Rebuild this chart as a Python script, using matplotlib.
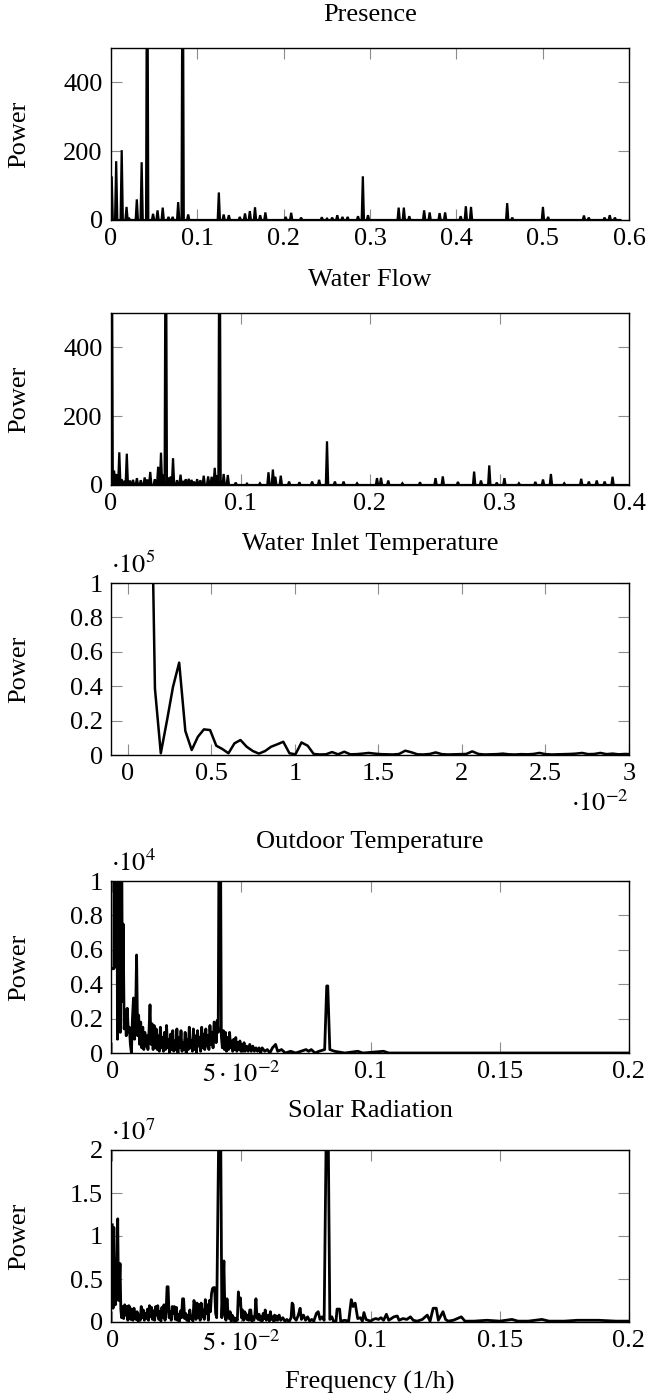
import matplotlib
matplotlib.use("Agg")
import matplotlib.pyplot as plt
from matplotlib.ticker import FixedLocator, FixedFormatter

plt.rcParams["font.family"] = ["Liberation Serif", "DejaVu Serif"]
plt.rcParams["mathtext.fontset"] = "stix"
FS = 19
plt.rcParams["font.size"] = FS

# ─── Presence (pico: frequência em 1/h, potência) ─────────────────────────────
presence_freq = [0.0008, 0.0060, 0.0124, 0.0180, 0.0211, 0.0299, 0.0355, 0.0419,
                 0.0487, 0.0539, 0.0599, 0.0666, 0.0714, 0.0778, 0.0830, 0.0894,
                 0.1249, 0.1305, 0.1365, 0.1492, 0.1552, 0.1608, 0.1668, 0.1728,
                 0.1788, 0.2023, 0.2087, 0.2202, 0.2442, 0.2502, 0.2562, 0.2621,
                 0.2681, 0.2741, 0.2861, 0.2917, 0.2977, 0.3332, 0.3392, 0.3455,
                 0.3627, 0.3691, 0.3806, 0.3870, 0.4050, 0.4110, 0.4170, 0.4589,
                 0.4648, 0.5003, 0.5063, 0.5478, 0.5534, 0.5717, 0.5777, 0.5837]
presence_power = [127, 171, 203, 38, 4, 60, 168, 1000,
                  18, 28, 36, 9, 9, 52, 1000, 16,
                  80, 16, 14, 9, 19, 26, 37, 14,
                  22, 9, 21, 7, 8, 4, 7, 14,
                  9, 9, 11, 127, 14, 36, 36, 11,
                  28, 22, 20, 22, 11, 40, 38, 49,
                  7, 38, 9, 13, 7, 7, 14, 7]

# ─── Water Flow ───────────────────────────────────────────────────────────────
flow_freq = [0.0005, 0.0024, 0.0040, 0.0064, 0.0082, 0.0100, 0.0122, 0.0146,
             0.0170, 0.0200, 0.0230, 0.0260, 0.0280, 0.0303, 0.0338, 0.0364,
             0.0386, 0.0403, 0.0423, 0.0444, 0.0462, 0.0479, 0.0510, 0.0537,
             0.0560, 0.0577, 0.0600, 0.0622, 0.0640, 0.0665, 0.0690, 0.0716,
             0.0750, 0.0777, 0.0801, 0.0820, 0.0838, 0.0870, 0.0902, 0.0963,
             0.1050, 0.1150, 0.1216, 0.1250, 0.1269, 0.1311, 0.1375, 0.1455,
             0.1553, 0.1607, 0.1668, 0.1729, 0.1796, 0.1900, 0.2054, 0.2085,
             0.2141, 0.2250, 0.2386, 0.2506, 0.2562, 0.2679, 0.2804, 0.2857,
             0.2921, 0.2979, 0.3038, 0.3150, 0.3277, 0.3336, 0.3397, 0.3500,
             0.3631, 0.3690, 0.3751, 0.3812, 0.3873]
flow_power = [1000, 42, 32, 95, 17, 12, 91, 13,
              15, 20, 14, 22, 16, 38, 17, 53,
              94, 30, 1000, 22, 25, 78, 14, 30,
              12, 17, 18, 15, 10, 17, 14, 27,
              25, 24, 50, 28, 1000, 32, 29, 7,
              4, 5, 37, 45, 24, 27, 10, 8,
              10, 15, 127, 10, 10, 5, 20, 21,
              13, 5, 8, 20, 25, 9, 39, 13,
              57, 7, 20, 5, 9, 16, 32, 5,
              18, 10, 13, 10, 24]

# ─── Water Inlet Temperature (frequência ·10^-2, potência ·10^5) ──────────────
inlet_freq_e2 = [0.018, 0.054, 0.090, 0.127, 0.163, 0.198, 0.235, 0.271, 0.308,
                 0.345, 0.383, 0.420, 0.456, 0.493, 0.530, 0.566, 0.603, 0.639,
                 0.675, 0.712, 0.749, 0.785, 0.822, 0.858, 0.895, 0.931, 0.968,
                 1.004, 1.040, 1.077, 1.113, 1.150, 1.186, 1.223, 1.259, 1.296,
                 1.332, 1.369, 1.405, 1.442, 1.478, 1.515, 1.551, 1.588, 1.624,
                 1.661, 1.697, 1.734, 1.770, 1.807, 1.843, 1.880, 1.916, 1.953,
                 1.989, 2.026, 2.062, 2.099, 2.135, 2.172, 2.208, 2.245, 2.281,
                 2.318, 2.354, 2.391, 2.427, 2.464, 2.500, 2.537, 2.573, 2.610,
                 2.646, 2.683, 2.719, 2.756, 2.792, 2.829, 2.865, 2.902, 2.938,
                 2.975, 3.011]
inlet_power_e5 = [20.0, 10.0, 6.0, 2.5, 0.386, 0.01, 0.20, 0.396, 0.537,
                  0.139, 0.029, 0.106, 0.149, 0.145, 0.054, 0.035, 0.010, 0.068,
                  0.087, 0.048, 0.023, 0.008, 0.023, 0.048, 0.062, 0.077, 0.010,
                  0.004, 0.073, 0.054, 0.006, 0.003, 0.004, 0.017, 0.004, 0.019,
                  0.004, 0.005, 0.008, 0.012, 0.008, 0.005, 0.004, 0.003, 0.006,
                  0.025, 0.016, 0.004, 0.003, 0.006, 0.015, 0.005, 0.003, 0.004,
                  0.005, 0.006, 0.021, 0.006, 0.003, 0.004, 0.005, 0.008, 0.004,
                  0.003, 0.005, 0.004, 0.006, 0.012, 0.005, 0.003, 0.004, 0.005,
                  0.006, 0.008, 0.012, 0.005, 0.006, 0.012, 0.005, 0.008, 0.004,
                  0.006, 0.005]

# ─── Outdoor Temperature (potência ·10^4) ─────────────────────────────────────
outdoor_freq = [0.0000, 0.0006, 0.0009, 0.0013, 0.0016, 0.0020, 0.0024, 0.0027,
                0.0031, 0.0035, 0.0039, 0.0042, 0.0046, 0.0050, 0.0054, 0.0058,
                0.0062, 0.0066, 0.0070, 0.0074, 0.0078, 0.0082, 0.0086, 0.0090,
                0.0094, 0.0098, 0.0102, 0.0106, 0.0110, 0.0114, 0.0118, 0.0122,
                0.0126, 0.0130, 0.0134, 0.0138, 0.0142, 0.0146, 0.0150, 0.0154,
                0.0158, 0.0162, 0.0166, 0.0170, 0.0174, 0.0178, 0.0182, 0.0186,
                0.0190, 0.0194, 0.0198, 0.0202, 0.0206, 0.0210, 0.0214, 0.0218,
                0.0222, 0.0226, 0.0230, 0.0234, 0.0238, 0.0242, 0.0246, 0.0250,
                0.0254, 0.0258, 0.0262, 0.0266, 0.0270, 0.0274, 0.0278, 0.0282,
                0.0286, 0.0290, 0.0294, 0.0298, 0.0302, 0.0306, 0.0310, 0.0314,
                0.0318, 0.0322, 0.0326, 0.0330, 0.0334, 0.0338, 0.0342, 0.0346,
                0.0350, 0.0354, 0.0358, 0.0362, 0.0366, 0.0370, 0.0374, 0.0378,
                0.0382, 0.0386, 0.0390, 0.0394, 0.0398, 0.0402, 0.0406, 0.0410,
                0.0414, 0.0418, 0.0422, 0.0426, 0.0430, 0.0434, 0.0438, 0.0442,
                0.0446, 0.0450, 0.0454, 0.0458, 0.0462, 0.0466, 0.0470, 0.0474,
                0.0478, 0.0482, 0.0486, 0.0490, 0.0494, 0.0498, 0.0502, 0.0506,
                0.0510, 0.0514, 0.0520, 0.0526, 0.0532, 0.0538, 0.0544, 0.0550,
                0.0556, 0.0562, 0.0568, 0.0574, 0.0580, 0.0590, 0.0600, 0.0610,
                0.0620, 0.0632, 0.0640, 0.0655, 0.0670, 0.0690, 0.0710, 0.0730,
                0.0750, 0.0760, 0.0770, 0.0785, 0.0800, 0.0822, 0.0830, 0.0834,
                0.0842, 0.0860, 0.0900, 0.0950, 0.0970, 0.1050, 0.1070, 0.1500,
                0.2000]
outdoor_power_e4 = [0.49, 0.49, 3.00, 0.50, 2.50, 0.08, 0.69, 2.00,
                    0.12, 1.80, 0.30, 0.75, 0.14, 0.25, 0.10, 0.26,
                    0.12, 0.15, 0.05, 0.00, 0.20, 0.32, 0.08, 0.20,
                    0.57, 0.10, 0.22, 0.05, 0.18, 0.03, 0.15, 0.02,
                    0.12, 0.04, 0.10, 0.02, 0.12, 0.28, 0.05, 0.17,
                    0.02, 0.16, 0.03, 0.14, 0.02, 0.10, 0.01, 0.15,
                    0.03, 0.09, 0.01, 0.12, 0.02, 0.16, 0.03, 0.08,
                    0.00, 0.11, 0.02, 0.13, 0.01, 0.07, 0.02, 0.14,
                    0.00, 0.09, 0.03, 0.13, 0.01, 0.06, 0.02, 0.12,
                    0.00, 0.08, 0.02, 0.15, 0.03, 0.07, 0.01, 0.14,
                    0.02, 0.10, 0.00, 0.13, 0.04, 0.09, 0.01, 0.15,
                    0.03, 0.11, 0.02, 0.14, 0.04, 0.10, 0.02, 0.16,
                    0.05, 0.12, 0.03, 0.18, 0.17, 0.06, 0.19, 0.12,
                    1.60, 1.60, 0.10, 0.03, 0.13, 0.02, 0.12, 0.01,
                    0.09, 0.02, 0.12, 0.03, 0.07, 0.01, 0.08, 0.02,
                    0.09, 0.01, 0.06, 0.02, 0.07, 0.01, 0.05, 0.01,
                    0.06, 0.01, 0.04, 0.01, 0.05, 0.01, 0.04, 0.01,
                    0.03, 0.01, 0.03, 0.00, 0.03, 0.01, 0.02, 0.00,
                    0.03, 0.05, 0.01, 0.02, 0.00, 0.01, 0.00, 0.01,
                    0.02, 0.01, 0.02, 0.00, 0.01, 0.02, 0.39, 0.39,
                    0.02, 0.01, 0.00, 0.01, 0.00, 0.01, 0.00, 0.00,
                    0.00]

# ─── Solar Radiation (potência ·10^7) ─────────────────────────────────────────
solar_freq = [0.0000, 0.0003, 0.0006, 0.0009, 0.0012, 0.0015, 0.0018, 0.0021,
              0.0024, 0.0027, 0.0030, 0.0033, 0.0036, 0.0040, 0.0044, 0.0048,
              0.0052, 0.0056, 0.0060, 0.0064, 0.0068, 0.0072, 0.0076, 0.0080,
              0.0084, 0.0088, 0.0092, 0.0096, 0.0100, 0.0104, 0.0108, 0.0112,
              0.0116, 0.0120, 0.0124, 0.0128, 0.0132, 0.0136, 0.0140, 0.0144,
              0.0148, 0.0152, 0.0156, 0.0160, 0.0164, 0.0168, 0.0172, 0.0176,
              0.0180, 0.0184, 0.0188, 0.0192, 0.0196, 0.0200, 0.0204, 0.0208,
              0.0212, 0.0216, 0.0220, 0.0224, 0.0228, 0.0232, 0.0236, 0.0240,
              0.0244, 0.0248, 0.0252, 0.0256, 0.0260, 0.0264, 0.0268, 0.0272,
              0.0276, 0.0280, 0.0284, 0.0288, 0.0292, 0.0296, 0.0300, 0.0304,
              0.0308, 0.0312, 0.0316, 0.0320, 0.0324, 0.0328, 0.0332, 0.0336,
              0.0340, 0.0344, 0.0348, 0.0352, 0.0356, 0.0360, 0.0364, 0.0368,
              0.0372, 0.0376, 0.0380, 0.0384, 0.0388, 0.0392, 0.0396, 0.0400,
              0.0404, 0.0413, 0.0419, 0.0424, 0.0428, 0.0432, 0.0436, 0.0440,
              0.0444, 0.0448, 0.0452, 0.0456, 0.0460, 0.0464, 0.0468, 0.0472,
              0.0476, 0.0480, 0.0484, 0.0488, 0.0492, 0.0496, 0.0500, 0.0504,
              0.0508, 0.0512, 0.0516, 0.0520, 0.0524, 0.0528, 0.0532, 0.0536,
              0.0540, 0.0544, 0.0548, 0.0552, 0.0556, 0.0560, 0.0564, 0.0568,
              0.0572, 0.0576, 0.0580, 0.0584, 0.0588, 0.0592, 0.0596, 0.0600,
              0.0604, 0.0608, 0.0612, 0.0616, 0.0620, 0.0624, 0.0628, 0.0632,
              0.0636, 0.0640, 0.0646, 0.0652, 0.0660, 0.0668, 0.0676, 0.0684,
              0.0692, 0.0696, 0.0700, 0.0704, 0.0712, 0.0720, 0.0727, 0.0732,
              0.0740, 0.0748, 0.0756, 0.0764, 0.0772, 0.0780, 0.0790, 0.0797,
              0.0804, 0.0812, 0.0820, 0.0829, 0.0835, 0.0842, 0.0850, 0.0856,
              0.0866, 0.0870, 0.0880, 0.0884, 0.0900, 0.0915, 0.0925, 0.0932,
              0.0940, 0.0950, 0.0960, 0.0968, 0.0974, 0.0982, 0.0990, 0.1000,
              0.1010, 0.1020, 0.1030, 0.1040, 0.1050, 0.1061, 0.1070, 0.1080,
              0.1090, 0.1103, 0.1110, 0.1125, 0.1140, 0.1154, 0.1165, 0.1180,
              0.1200, 0.1219, 0.1230, 0.1242, 0.1254, 0.1262, 0.1280, 0.1290,
              0.1300, 0.1320, 0.1351, 0.1365, 0.1400, 0.1450, 0.1500, 0.1547,
              0.1570, 0.1610, 0.1663, 0.1690, 0.1750, 0.1800, 0.1882, 0.1950,
              0.2000]
solar_power_e7 = [1.13, 0.16, 1.10, 0.50, 0.20, 0.45, 0.60, 1.20,
                  0.25, 0.40, 0.68, 0.15, 0.05, 0.18, 0.04, 0.20,
                  0.08, 0.18, 0.02, 0.19, 0.17, 0.03, 0.15, 0.02,
                  0.16, 0.05, 0.03, 0.12, 0.01, 0.08, 0.02, 0.18,
                  0.05, 0.14, 0.02, 0.10, 0.04, 0.15, 0.02, 0.19,
                  0.06, 0.17, 0.03, 0.13, 0.02, 0.18, 0.08, 0.19,
                  0.03, 0.12, 0.01, 0.17, 0.05, 0.20, 0.02, 0.10,
                  0.41, 0.41, 0.05, 0.12, 0.02, 0.18, 0.10, 0.18,
                  0.03, 0.17, 0.02, 0.09, 0.01, 0.13, 0.05, 0.27,
                  0.27, 0.04, 0.10, 0.02, 0.08, 0.01, 0.14, 0.04,
                  0.06, 0.01, 0.25, 0.20, 0.03, 0.22, 0.05, 0.20,
                  0.02, 0.22, 0.06, 0.14, 0.03, 0.26, 0.10, 0.20,
                  0.02, 0.25, 0.12, 0.33, 0.39, 0.40, 0.40, 0.10,
                  0.05, 2.50, 2.50, 0.05, 0.35, 0.71, 0.08, 0.02,
                  0.27, 0.10, 0.04, 0.12, 0.01, 0.08, 0.02, 0.05,
                  0.00, 0.04, 0.02, 0.35, 0.20, 0.28, 0.05, 0.14,
                  0.02, 0.12, 0.10, 0.03, 0.08, 0.02, 0.14, 0.14,
                  0.01, 0.06, 0.02, 0.08, 0.27, 0.05, 0.03, 0.09,
                  0.02, 0.06, 0.01, 0.10, 0.04, 0.14, 0.02, 0.05,
                  0.08, 0.01, 0.12, 0.03, 0.06, 0.01, 0.08, 0.02,
                  0.07, 0.02, 0.08, 0.02, 0.05, 0.01, 0.03, 0.00,
                  0.05, 0.22, 0.20, 0.05, 0.02, 0.08, 0.16, 0.03,
                  0.08, 0.02, 0.06, 0.01, 0.03, 0.01, 0.10, 0.12,
                  0.03, 0.06, 0.02, 2.50, 2.50, 0.03, 0.06, 0.01,
                  0.01, 0.15, 0.15, 0.01, 0.02, 0.01, 0.26, 0.18,
                  0.22, 0.04, 0.05, 0.01, 0.11, 0.03, 0.02, 0.01,
                  0.03, 0.04, 0.03, 0.05, 0.02, 0.09, 0.02, 0.04,
                  0.06, 0.07, 0.02, 0.04, 0.03, 0.06, 0.02, 0.01,
                  0.03, 0.08, 0.01, 0.16, 0.16, 0.02, 0.12, 0.03,
                  0.01, 0.02, 0.06, 0.01, 0.01, 0.02, 0.01, 0.03,
                  0.01, 0.01, 0.03, 0.01, 0.01, 0.02, 0.02, 0.01,
                  0.01]

# ─── Layout (pixels da figura 648x1399) ───────────────────────────────────────
W, H = 648, 1399
AX_LEFT, AX_RIGHT = 111, 629
AX_TOPS = [48, 313, 583, 881, 1150]
AX_H = 172
LW = 1.6
LW_DENSE = 2.0   # espectros densos (Outdoor / Solar) ficam mais "cheios"


def spike_line(freq, power, half_width, x_end):
    xs, ys = [0.0], [0.0]
    for f, p in zip(freq, power):
        xs += [f - half_width, f, f + half_width]
        ys += [0.0, p, 0.0]
    xs.append(x_end)
    ys.append(0.0)
    return xs, ys


def style_axis(ax, title, raised=False):
    for s in ax.spines.values():
        s.set_linewidth(1.0)
        s.set_color("black")
    ax.tick_params(which="both", direction="in", top=True, right=True,
                   length=7.6, width=0.8, color="0.55", pad=6, labelsize=FS)
    ax.set_ylabel("Power", fontsize=FS)
    ax.yaxis.set_label_coords((30 - AX_LEFT) / (AX_RIGHT - AX_LEFT), 0.5)
    dy = 33 if raised else 27
    ax.text(0.5, 1 + dy / AX_H, title, transform=ax.transAxes,
            ha="center", va="baseline", fontsize=FS)


fig = plt.figure(figsize=(W / 100, H / 100), dpi=100)
axes = []
for top in AX_TOPS:
    rect = [AX_LEFT / W, (H - top - AX_H) / H, (AX_RIGHT - AX_LEFT) / W, AX_H / H]
    axes.append(fig.add_axes(rect))

# Presence
ax = axes[0]
x, y = spike_line(presence_freq, presence_power, 0.0013, 0.59)
ax.plot(x, y, color="black", lw=LW, solid_joinstyle="miter")
ax.set_xlim(0, 0.6)
ax.set_ylim(0, 500)
ax.xaxis.set_major_locator(FixedLocator([0, 0.1, 0.2, 0.3, 0.4, 0.5, 0.6]))
ax.xaxis.set_major_formatter(FixedFormatter(["0", "0.1", "0.2", "0.3", "0.4", "0.5", "0.6"]))
ax.yaxis.set_major_locator(FixedLocator([0, 200, 400]))
ax.yaxis.set_major_formatter(FixedFormatter(["0", "200", "400"]))
style_axis(ax, "Presence")

# Water Flow
ax = axes[1]
x, y = spike_line(flow_freq, flow_power, 0.0009, 0.4)
ax.plot(x, y, color="black", lw=LW, solid_joinstyle="miter")
ax.set_xlim(0, 0.4)
ax.set_ylim(0, 500)
ax.xaxis.set_major_locator(FixedLocator([0, 0.1, 0.2, 0.3, 0.4]))
ax.xaxis.set_major_formatter(FixedFormatter(["0", "0.1", "0.2", "0.3", "0.4"]))
ax.yaxis.set_major_locator(FixedLocator([0, 200, 400]))
ax.yaxis.set_major_formatter(FixedFormatter(["0", "200", "400"]))
style_axis(ax, "Water Flow")

# Water Inlet Temperature
ax = axes[2]
ax.plot(inlet_freq_e2, inlet_power_e5, color="black", lw=LW + 0.2)
ax.set_xlim(-0.1, 3.0)
ax.set_ylim(0, 1)
ax.xaxis.set_major_locator(FixedLocator([0, 0.5, 1, 1.5, 2, 2.5, 3]))
ax.xaxis.set_major_formatter(FixedFormatter(["0", "0.5", "1", "1.5", "2", "2.5", "3"]))
ax.yaxis.set_major_locator(FixedLocator([0, 0.2, 0.4, 0.6, 0.8, 1]))
ax.yaxis.set_major_formatter(FixedFormatter(["0", "0.2", "0.4", "0.6", "0.8", "1"]))
style_axis(ax, "Water Inlet Temperature", raised=True)
ax.text(0.0, 1 + 10 / AX_H, r"$\cdot10^{5}$", transform=ax.transAxes,
        ha="left", va="baseline", fontsize=FS)
ax.text(1.0, -56 / AX_H, r"$\cdot10^{-2}$", transform=ax.transAxes,
        ha="right", va="baseline", fontsize=FS)

freq_ticks = [0, 0.05, 0.1, 0.15, 0.2]
freq_labels = ["0", r"$5\cdot10^{-2}$", "0.1", "0.15", "0.2"]

# Outdoor Temperature
ax = axes[3]
ax.plot(outdoor_freq, outdoor_power_e4, color="black", lw=LW_DENSE)
ax.set_xlim(-0.0005, 0.2)
ax.set_ylim(0, 1)
ax.xaxis.set_major_locator(FixedLocator(freq_ticks))
ax.xaxis.set_major_formatter(FixedFormatter(freq_labels))
ax.yaxis.set_major_locator(FixedLocator([0, 0.2, 0.4, 0.6, 0.8, 1]))
ax.yaxis.set_major_formatter(FixedFormatter(["0", "0.2", "0.4", "0.6", "0.8", "1"]))
style_axis(ax, "Outdoor Temperature", raised=True)
ax.text(0.0, 1 + 10 / AX_H, r"$\cdot10^{4}$", transform=ax.transAxes,
        ha="left", va="baseline", fontsize=FS)

# Solar Radiation
ax = axes[4]
ax.plot(solar_freq, solar_power_e7, color="black", lw=LW_DENSE)
ax.set_xlim(-0.0005, 0.2)
ax.set_ylim(0, 2)
ax.xaxis.set_major_locator(FixedLocator(freq_ticks))
ax.xaxis.set_major_formatter(FixedFormatter(freq_labels))
ax.yaxis.set_major_locator(FixedLocator([0, 0.5, 1, 1.5, 2]))
ax.yaxis.set_major_formatter(FixedFormatter(["0", "0.5", "1", "1.5", "2"]))
style_axis(ax, "Solar Radiation", raised=True)
ax.text(0.0, 1 + 10 / AX_H, r"$\cdot10^{7}$", transform=ax.transAxes,
        ha="left", va="baseline", fontsize=FS)
ax.text(0.5, -60 / AX_H, "Frequency (1/h)", transform=ax.transAxes,
        ha="center", va="center", fontsize=FS)

fig.savefig("out.png", dpi=100)
